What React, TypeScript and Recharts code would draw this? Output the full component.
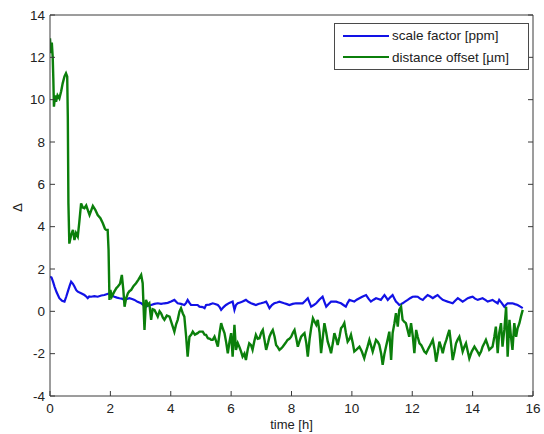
import React from 'react';
import { LineChart, Line, XAxis, YAxis } from 'recharts';

const xTicks = [0, 2, 4, 6, 8, 10, 12, 14, 16];
const yTicks = [-4, -2, 0, 2, 4, 6, 8, 10, 12, 14];

const seriesNames = ['scale factor [ppm]', 'distance offset [\u00b5m]'];
const seriesColors = ['#1212e6', '#0b7f0b'];

const scaleT = [0,0.05,0.1,0.15,0.22,0.31,0.4,0.48,0.54,0.59,0.65,0.7,0.76,0.81,0.87,0.92,1.03,1.14,1.2,1.25,1.3,1.36,1.47,1.58,1.7,1.8,1.9,1.97,2.05,2.13,2.22,2.3,2.38,2.47,2.55,2.63,2.72,2.8,2.9,3.02,3.1,3.18,3.26,3.35,3.46,3.57,3.68,3.79,3.9,4.01,4.12,4.18,4.23,4.34,4.45,4.51,4.56,4.62,4.67,4.78,4.89,4.95,5.06,5.12,5.17,5.28,5.39,5.47,5.56,5.62,5.67,5.75,5.83,5.94,6.05,6.11,6.16,6.22,6.3,6.38,6.49,6.57,6.66,6.74,6.82,6.9,6.99,7.08,7.16,7.22,7.27,7.35,7.43,7.52,7.6,7.68,7.76,7.85,7.93,8.04,8.15,8.26,8.37,8.46,8.54,8.6,8.65,8.74,8.82,8.92,9.03,9.09,9.15,9.23,9.31,9.4,9.48,9.56,9.64,9.72,9.8,9.86,9.92,10.0,10.08,10.16,10.25,10.36,10.47,10.55,10.63,10.72,10.8,10.88,10.96,11.02,11.08,11.14,11.19,11.27,11.35,11.41,11.46,11.52,11.57,11.63,11.68,11.76,11.85,11.93,12.01,12.1,12.18,12.26,12.35,12.43,12.51,12.6,12.68,12.76,12.84,12.92,13.01,13.09,13.17,13.26,13.34,13.42,13.51,13.59,13.67,13.76,13.84,13.92,14.0,14.08,14.17,14.25,14.33,14.42,14.5,14.58,14.66,14.75,14.83,14.88,14.96,15.05,15.1,15.16,15.24,15.32,15.4,15.49,15.58,15.66];
const scaleV = [1.64,1.6,1.4,1.17,0.9,0.62,0.5,0.46,0.7,0.93,1.2,1.4,1.3,1.17,1.0,0.93,0.85,0.77,0.7,0.62,0.7,0.69,0.72,0.69,0.75,0.77,0.82,0.85,0.75,0.69,0.65,0.62,0.6,0.54,0.58,0.62,0.58,0.54,0.45,0.38,0.3,0.22,0.28,0.3,0.35,0.38,0.35,0.38,0.4,0.46,0.54,0.45,0.38,0.35,0.3,0.4,0.54,0.4,0.3,0.3,0.3,0.22,0.2,0.15,0.3,0.32,0.38,0.35,0.3,0.2,0.07,0.2,0.3,0.4,0.46,0.07,0.3,0.38,0.42,0.46,0.54,0.45,0.38,0.34,0.3,0.35,0.38,0.42,0.46,0.3,0.15,0.3,0.38,0.42,0.46,0.42,0.38,0.34,0.3,0.35,0.38,0.38,0.38,0.5,0.62,0.4,0.22,0.3,0.38,0.55,0.69,0.45,0.22,0.35,0.46,0.46,0.46,0.42,0.38,0.3,0.22,0.4,0.54,0.5,0.46,0.55,0.62,0.7,0.77,0.6,0.46,0.55,0.62,0.58,0.54,0.66,0.77,0.65,0.54,0.66,0.77,0.6,0.46,0.38,0.3,0.34,0.38,0.46,0.54,0.62,0.69,0.7,0.69,0.6,0.54,0.66,0.77,0.7,0.62,0.7,0.77,0.65,0.54,0.5,0.46,0.42,0.38,0.5,0.62,0.54,0.46,0.54,0.62,0.66,0.69,0.6,0.54,0.58,0.62,0.54,0.46,0.5,0.54,0.45,0.38,0.54,0.4,0.22,0.3,0.38,0.38,0.38,0.34,0.3,0.22,0.15];

const offsetT = [0,0.03,0.06,0.09,0.11,0.13,0.17,0.2,0.25,0.31,0.37,0.42,0.48,0.53,0.57,0.59,0.61,0.64,0.7,0.76,0.81,0.86,0.92,0.97,1.03,1.09,1.14,1.2,1.31,1.42,1.5,1.58,1.67,1.75,1.82,1.86,1.91,1.94,1.97,2.0,2.05,2.13,2.2,2.25,2.32,2.38,2.43,2.47,2.52,2.58,2.63,2.69,2.77,2.85,2.93,3.02,3.07,3.1,3.13,3.18,3.24,3.29,3.35,3.4,3.46,3.52,3.57,3.63,3.68,3.74,3.79,3.87,3.96,4.04,4.12,4.18,4.23,4.29,4.34,4.4,4.45,4.51,4.56,4.6,4.62,4.68,4.73,4.8,4.89,4.95,5.06,5.12,5.17,5.23,5.3,5.34,5.39,5.45,5.5,5.56,5.62,5.67,5.72,5.78,5.84,5.89,5.95,6.0,6.05,6.11,6.16,6.22,6.27,6.33,6.38,6.44,6.49,6.55,6.6,6.66,6.71,6.77,6.82,6.88,6.94,7.0,7.05,7.1,7.16,7.22,7.27,7.33,7.38,7.44,7.49,7.55,7.6,7.66,7.71,7.8,7.87,7.93,7.99,8.05,8.1,8.16,8.21,8.27,8.32,8.38,8.43,8.49,8.54,8.6,8.65,8.71,8.77,8.82,8.87,8.93,8.98,9.04,9.09,9.15,9.2,9.26,9.31,9.37,9.42,9.48,9.53,9.59,9.64,9.7,9.75,9.8,9.86,9.92,9.97,10.03,10.08,10.16,10.25,10.33,10.41,10.47,10.52,10.58,10.63,10.69,10.75,10.8,10.86,10.91,10.97,11.02,11.08,11.13,11.19,11.24,11.3,11.35,11.41,11.46,11.52,11.57,11.63,11.68,11.74,11.79,11.85,11.9,11.96,12.02,12.07,12.13,12.18,12.24,12.3,12.35,12.4,12.46,12.52,12.57,12.63,12.68,12.74,12.79,12.85,12.9,12.96,13.01,13.07,13.13,13.18,13.23,13.29,13.34,13.4,13.45,13.5,13.56,13.61,13.67,13.72,13.78,13.84,13.89,13.97,14.06,14.14,14.22,14.28,14.33,14.39,14.44,14.5,14.55,14.6,14.66,14.72,14.77,14.83,14.88,14.94,14.99,15.05,15.11,15.16,15.22,15.27,15.32,15.38,15.44,15.49,15.55,15.6,15.66];
const offsetV = [12.9,12.2,12.7,12.0,11.0,9.67,10.2,9.9,10.2,10.06,10.4,10.77,11.1,11.25,11.1,9.2,5.1,3.2,3.6,3.85,3.37,3.7,3.53,4.2,5.1,4.9,4.87,5.0,4.55,4.98,4.8,4.55,4.4,4.16,3.9,3.85,3.85,2.9,0.54,1.01,0.7,0.93,1.1,1.17,1.3,1.72,1.0,0.22,0.6,0.85,0.95,1.01,1.2,1.33,1.5,1.72,1.33,0.2,-0.88,0.54,0.3,0.38,-0.4,0.1,0.07,-0.1,-0.25,0.0,-0.09,-0.3,-0.4,-0.2,-0.25,-0.6,-0.96,-0.6,-0.4,0.0,0.15,-0.1,-0.25,-1.2,-2.14,-1.5,-1.2,-1.1,-0.96,-1.1,-1.03,-0.96,-0.96,-1.1,-1.11,-1.27,-1.3,-1.35,-1.35,-1.2,-1.4,-1.67,-1.0,-0.56,-0.8,-1.03,-1.5,-1.98,-1.4,-1.03,-2.14,-0.64,-1.82,-1.5,-1.67,-1.9,-2.14,-2.0,-2.3,-1.8,-1.51,-1.6,-1.82,-1.4,-1.11,-1.3,-1.27,-1.0,-0.88,-1.3,-1.82,-1.5,-1.2,-1.0,-0.88,-1.2,-1.59,-1.7,-1.82,-1.75,-1.67,-1.5,-1.35,-1.3,-1.2,-1.0,-0.88,-1.3,-1.67,-1.4,-1.2,-1.1,-1.03,-1.5,-2.14,-1.3,-0.8,-0.33,-0.5,-0.64,-0.4,-1.0,-1.98,-1.2,-0.56,-1.0,-1.43,-1.7,-1.98,-1.5,-1.03,-1.3,-1.59,-1.2,-0.8,-0.7,-0.56,-1.0,-1.43,-1.3,-1.11,-1.5,-1.9,-1.8,-1.67,-1.9,-2.22,-1.9,-1.67,-1.35,-1.6,-1.9,-1.6,-1.35,-1.45,-1.59,-2.0,-2.53,-2.0,-1.67,-1.3,-0.96,-2.3,-1.03,-0.56,-0.09,-0.72,0.07,0.22,-0.4,-0.5,-0.56,-0.9,-1.2,-0.56,-1.2,-1.98,-0.88,-1.2,-1.51,-1.6,-1.74,-1.9,-1.98,-1.8,-1.67,-1.5,-1.35,-1.8,-2.38,-1.9,-1.43,-1.7,-1.98,-1.6,-1.35,-1.1,-0.88,-1.6,-2.3,-1.9,-1.51,-1.35,-1.2,-1.5,-1.9,-1.7,-1.51,-1.9,-2.22,-1.9,-1.67,-1.85,-2.06,-1.9,-1.67,-1.5,-1.35,-1.6,-1.82,-1.75,-1.67,-1.2,-0.72,-1.98,-1.03,-0.56,-1.67,-0.88,0.22,-2.14,-0.4,-1.2,-1.82,-0.56,-1.2,-0.8,-0.56,-0.25,0.07];

const scaleData = scaleT.map((t, i) => ({ t, v: scaleV[i] }));
const offsetData = offsetT.map((t, i) => ({ t, v: offsetV[i] }));

const FONT = '"Liberation Sans", Arial, sans-serif';
const AXIS = '#3a3a3a';
const tickStyle = { fontSize: 13.5, fill: '#222', fontFamily: FONT };
const noTick = () => <g />;

export default function App() {
  return (
    <div style={{ position: 'absolute', left: 0, top: 0, width: 544, height: 434, background: '#fff' }}>
      <LineChart width={544} height={434} margin={{ top: 14, right: 10, bottom: 0, left: 0 }}>
        <XAxis
          dataKey="t"
          type="number"
          domain={[0, 16]}
          ticks={xTicks}
          height={38}
          tickSize={-5}
          tickMargin={12}
          stroke={AXIS}
          tick={tickStyle}
          allowDataOverflow
          label={{ value: 'time [h]', position: 'insideBottom', offset: 5, style: { fontSize: 13, fill: '#222', fontFamily: FONT } }}
        />
        <XAxis
          xAxisId="top"
          orientation="top"
          type="number"
          domain={[0, 16]}
          ticks={xTicks}
          height={1}
          tickSize={-5}
          stroke={AXIS}
          tick={noTick}
          allowDataOverflow
        />
        <YAxis
          type="number"
          domain={[-4, 14]}
          ticks={yTicks}
          width={50}
          tickSize={-5}
          tickMargin={10}
          stroke={AXIS}
          tick={tickStyle}
          allowDataOverflow
          label={{
            content: (props: any) => {
              const vb = props.viewBox || { x: 0, y: 15, width: 50, height: 381 };
              const cx = vb.x + 17;
              const cy = vb.y + vb.height / 2 + 2;
              return (
                <text x={cx} y={cy} transform={`rotate(-90 ${cx} ${cy})`} textAnchor="middle" dominantBaseline="central" style={{ fontSize: 13.5, fill: '#222', fontFamily: FONT }}>
                  {'\u0394'}
                </text>
              );
            },
          }}
        />
        <YAxis
          yAxisId="right"
          orientation="right"
          type="number"
          domain={[-4, 14]}
          ticks={yTicks}
          width={1}
          tickSize={-5}
          stroke={AXIS}
          tick={noTick}
          allowDataOverflow
        />
        <Line data={scaleData} dataKey="v" name={seriesNames[0]} stroke={seriesColors[0]} strokeWidth={2.2} dot={false} isAnimationActive={false} type="linear" />
        <Line data={offsetData} dataKey="v" name={seriesNames[1]} stroke={seriesColors[1]} strokeWidth={2.4} dot={false} isAnimationActive={false} type="linear" />
      </LineChart>
      <div
        style={{
          position: 'absolute',
          left: 334,
          top: 23,
          width: 195,
          height: 47,
          boxSizing: 'border-box',
          border: '1px solid #4a4a4a',
          background: '#fff',
          fontFamily: FONT,
          fontSize: 13.5,
          color: '#222',
        }}
      >
        {seriesNames.map((name, i) => (
          <div key={name} style={{ position: 'absolute', left: 8, top: 3 + i * 21.5, height: 17, display: 'flex', alignItems: 'center', whiteSpace: 'nowrap' }}>
            <svg width={46} height={4} style={{ display: 'block' }}>
              <line x1={0} y1={2} x2={46} y2={2} stroke={seriesColors[i]} strokeWidth={2} />
            </svg>
            <span style={{ marginLeft: 3 }}>{name}</span>
          </div>
        ))}
      </div>
    </div>
  );
}
